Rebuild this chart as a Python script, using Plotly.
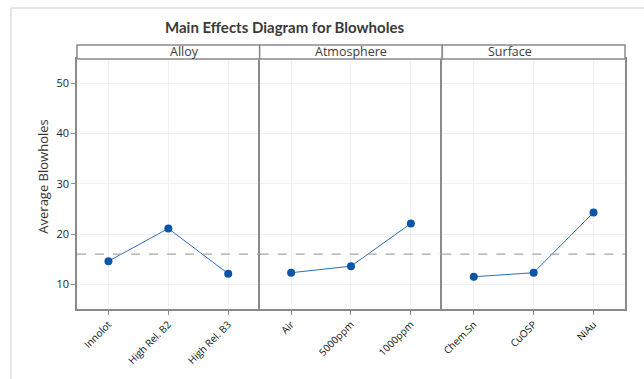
import plotly.graph_objects as go

# Factor levels and mean blowhole counts per level
factors = ["Alloy", "Atmosphere", "Surface"]
alloy_levels = ["Innolot", "High Rel. B2", "High Rel. B3"]
alloy_means = [14.6, 21.1, 12.1]
atmosphere_levels = ["Air", "5000ppm", "1000ppm"]
atmosphere_means = [12.3, 13.6, 22.1]
surface_levels = ["Chem.Sn", "CuOSP", "NiAu"]
surface_means = [11.5, 12.3, 24.3]
grand_mean = 16.0
y_ticks = [10, 20, 30, 40, 50]

W, H = 644, 379
L, R, T, B = 77, 19, 45, 70
plot_w = W - L - R
plot_h = H - T - B
strip_h = 14
y_top = 1 - strip_h / plot_h

levels = [alloy_levels, atmosphere_levels, surface_levels]
means = [alloy_means, atmosphere_means, surface_means]

border = "#8a8a8a"
grid = "#f0f0f0"
fnt = "Open Sans"

fig = go.Figure()
domains = [(0, 1 / 3), (1 / 3, 2 / 3), (2 / 3, 1)]

for i, (lv, mv) in enumerate(zip(levels, means)):
    sfx = "" if i == 0 else str(i + 1)
    fig.add_trace(go.Scatter(
        x=lv, y=mv, mode="lines+markers",
        xaxis="x" + sfx, yaxis="y" + sfx,
        line=dict(color="#2c6fbe", width=1),
        marker=dict(color="#0a55a8", size=8),
        showlegend=False, hoverinfo="x+y",
    ))
    fig.layout["xaxis" + sfx] = dict(
        domain=list(domains[i]), anchor="y" + sfx, type="category",
        range=[-0.525, 2.525], tickangle=-45,
        showline=True, mirror=True, linecolor=border, linewidth=1.5,
        showgrid=True, gridcolor=grid, gridwidth=1,
        ticks="outside", ticklen=4, tickcolor=border,
        tickfont=dict(family=fnt, size=10, color="#111"),
        zeroline=False, fixedrange=True,
    )
    ycfg = dict(
        domain=[0, y_top], anchor="x" + sfx, range=[5.08, 54.84],
        tickvals=y_ticks,
        showline=True, mirror=(i == 2), linecolor=border, linewidth=1.5,
        showgrid=True, gridcolor=grid, gridwidth=1,
        zeroline=False, fixedrange=True,
    )
    if i == 0:
        ycfg.update(ticks="outside", ticklen=4, tickcolor=border,
                    tickfont=dict(family=fnt, size=11, color="#222"))
    else:
        ycfg.update(matches="y", showticklabels=False, ticks="")
    fig.layout["yaxis" + sfx] = ycfg

    # reference line at the overall mean
    fig.add_shape(type="line", xref="x" + sfx + " domain", yref="y" + sfx,
                  x0=0, x1=1, y0=grand_mean, y1=grand_mean,
                  line=dict(color="#a5a5a5", width=1.2, dash="dash"))
    # facet strip
    fig.add_shape(type="rect", xref="paper", yref="paper",
                  x0=domains[i][0], x1=domains[i][1], y0=y_top, y1=1,
                  line=dict(color=border, width=1.5), fillcolor="white")
    fig.add_annotation(text=factors[i], xref="paper", yref="paper",
                       x=(domains[i][0] + domains[i][1]) / 2,
                       y=(y_top + 1) / 2, yanchor="middle", showarrow=False,
                       font=dict(family=fnt, size=12.5, color="#3c3c3c"))

# y axis title
fig.add_annotation(text="Average Blowholes", xref="paper", yref="paper",
                   x=(42.7 - L) / plot_w, y=0.5, textangle=-90,
                   xanchor="center", yanchor="middle", showarrow=False,
                   font=dict(family=fnt, size=13, color="#333"))

# light frame around the figure (top and left edges)
fx0 = (11 - L) / plot_w
fy0 = (T + plot_h - 8) / plot_h
fig.add_shape(type="line", xref="paper", yref="paper",
              x0=fx0, x1=(W - L) / plot_w, y0=fy0, y1=fy0,
              line=dict(color="#dddddd", width=1.5))
fig.add_shape(type="line", xref="paper", yref="paper",
              x0=fx0, x1=fx0, y0=fy0, y1=-(B) / plot_h,
              line=dict(color="#dddddd", width=1.5))

fig.update_layout(
    width=W, height=H,
    margin=dict(l=L, r=R, t=T, b=B),
    paper_bgcolor="white", plot_bgcolor="white",
    title=dict(text="Main Effects Diagram for Blowholes",
               x=284.5 / W, xanchor="center", xref="container",
               y=1 - 28 / H, yanchor="middle", yref="container",
               font=dict(family="Lato", size=15, color="#3a3a3a", weight="bold")),
)

fig.write_html("out.html", config={"displayModeBar": False})
